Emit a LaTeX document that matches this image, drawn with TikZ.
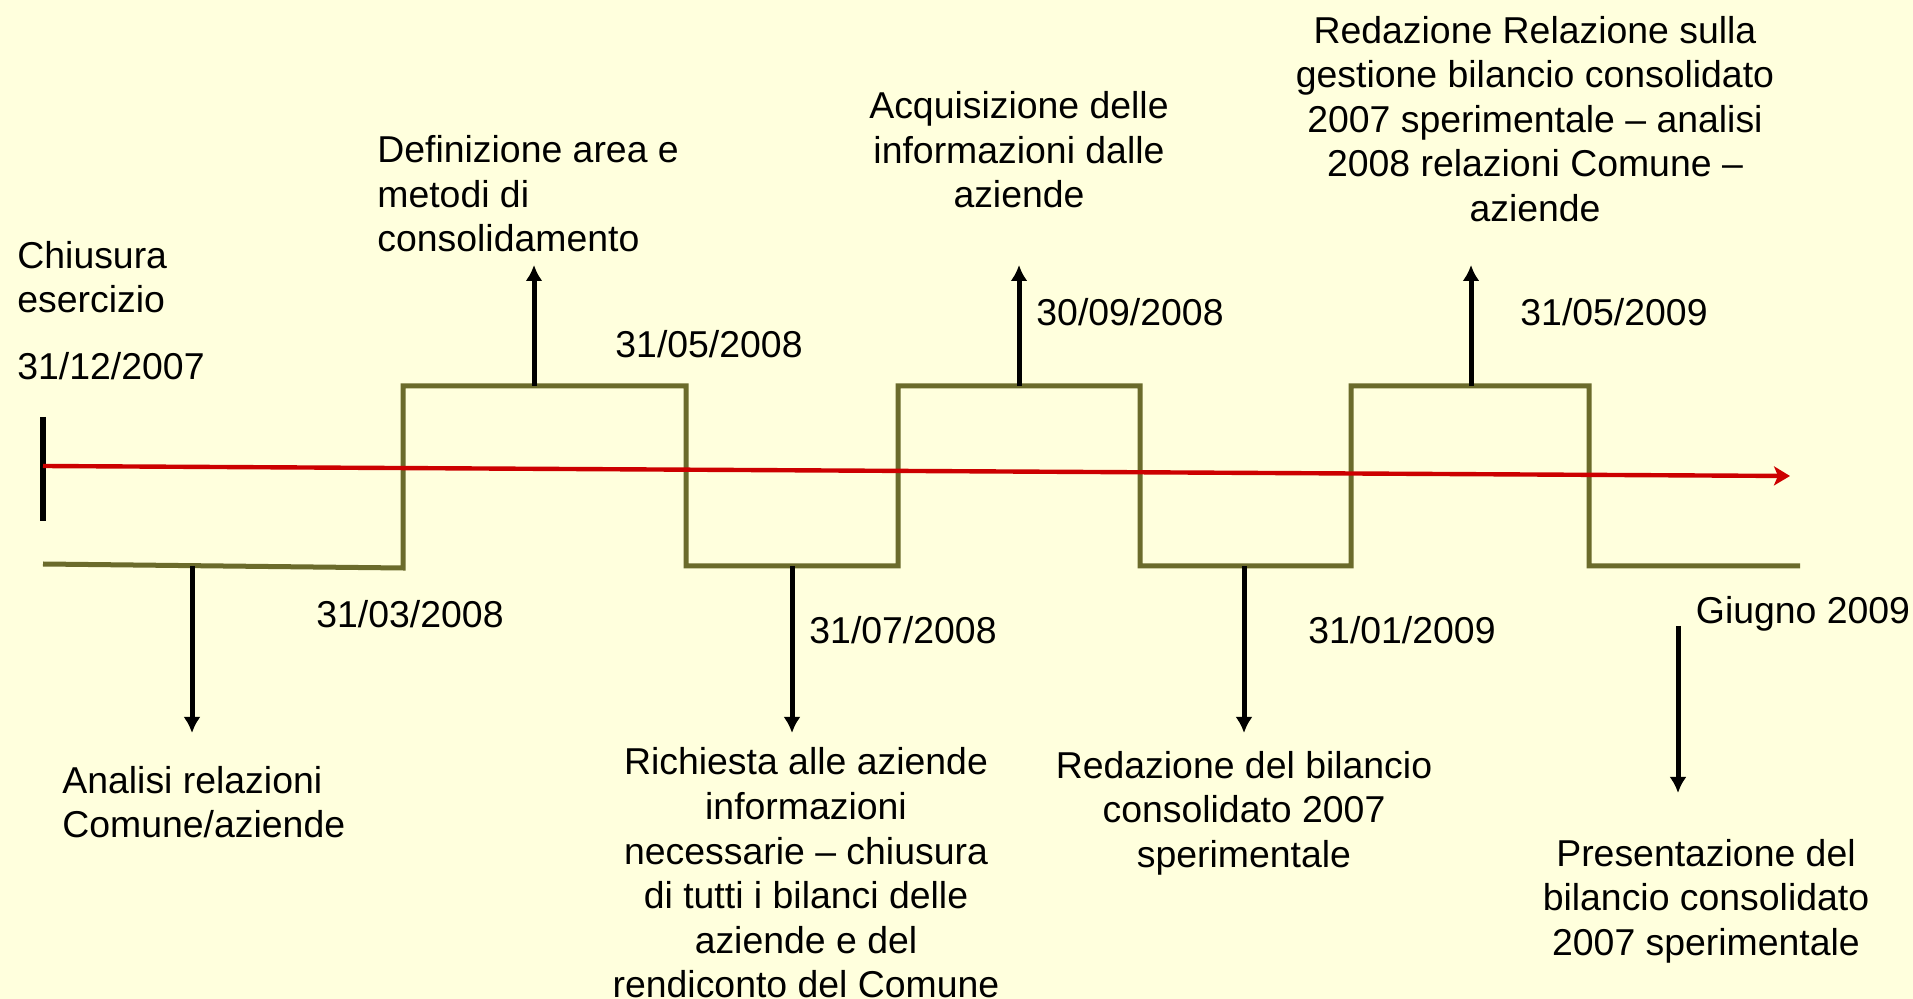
\documentclass[tikz,border=0pt]{standalone}
\usepackage{fontspec}
\setmainfont{Liberation Sans}
\usetikzlibrary{arrows.meta}
\definecolor{bgyellow}{HTML}{FFFFDD}
\definecolor{olive}{HTML}{6B6B2B}
\definecolor{tlred}{HTML}{CC0000}
\tikzset{
  lbl/.style={inner sep=0pt, font=\fontsize{18.7pt}{22.3pt}\selectfont, text=black},
  lblc/.style={lbl, align=center},
  lbll/.style={lbl, align=left},
  wave/.style={draw=olive, line width=2.5pt},
  pointer/.style={draw=black, line width=2.5pt, -{Latex[length=8pt,width=8.5pt]}},
  timeline/.style={draw=tlred, line width=2.2pt, -{Stealth[length=8pt,width=9.5pt,inset=2pt]}}
}
\begin{document}
\begin{tikzpicture}[x=0.5pt,y=-0.5pt]
\fill[bgyellow] (0,0) rectangle (1913,999);
\useasboundingbox (0,0) rectangle (1913,999);

% start bar
\coordinate (barT) at (43,417);
\coordinate (barB) at (43,521);
\draw[black, line width=2.6pt] (barT) -- (barB);

% waveform
\coordinate (w0) at (43,564);
\coordinate (w1) at (403,568);
\coordinate (w2) at (403,386);
\coordinate (w3) at (686,386);
\coordinate (w4) at (686,566);
\coordinate (w5) at (898,566);
\coordinate (w6) at (898,386);
\coordinate (w7) at (1140,386);
\coordinate (w8) at (1140,566);
\coordinate (w9) at (1351,566);
\coordinate (w10) at (1351,386);
\coordinate (w11) at (1589,386);
\coordinate (w12) at (1589,566);
\coordinate (w13) at (1800,566);
\draw[wave] (w0) -- (w1) -- (w2) -- (w3) -- (w4) -- (w5) -- (w6) -- (w7) -- (w8) -- (w9) -- (w10) -- (w11) -- (w12) -- (w13);

% red timeline
\coordinate (tlS) at (43,466);
\coordinate (tlE) at (1790,476);
\draw[timeline] (tlS) -- (tlE);

% up arrows
\coordinate (u1s) at (534,386); \coordinate (u1e) at (534,265);
\coordinate (u2s) at (1019,386); \coordinate (u2e) at (1019,265);
\coordinate (u3s) at (1471,386); \coordinate (u3e) at (1471,265);
\draw[pointer] (u1s) -- (u1e);
\draw[pointer] (u2s) -- (u2e);
\draw[pointer] (u3s) -- (u3e);

% down arrows
\coordinate (d1s) at (192,566); \coordinate (d1e) at (192,733);
\coordinate (d2s) at (792,566); \coordinate (d2e) at (792,733);
\coordinate (d3s) at (1244,566); \coordinate (d3e) at (1244,733);
\coordinate (d4s) at (1678,626); \coordinate (d4e) at (1678,793);
\draw[pointer] (d1s) -- (d1e);
\draw[pointer] (d2s) -- (d2e);
\draw[pointer] (d3s) -- (d3e);
\draw[pointer] (d4s) -- (d4e);

% labels above
\node[lbll, anchor=west] (chiusura) at (17,277) {Chiusura\\esercizio};
\node[lbl, anchor=west] (d20071231) at (17,366) {31/12/2007};
\node[lbll, anchor=west] (definizione) at (377,194) {Definizione area e\\metodi di\\consolidamento};
\node[lbl] (d20080531) at (709,344) {31/05/2008};
\node[lblc] (acquisizione) at (1019,150) {Acquisizione delle\\informazioni dalle\\aziende};
\node[lbl] (d20080930) at (1130,312) {30/09/2008};
\node[lblc] (redazioneRel) at (1535,119) {Redazione Relazione sulla\\gestione bilancio consolidato\\2007 sperimentale -- analisi\\2008 relazioni Comune --\\aziende};
\node[lbl] (d20090531) at (1614,312) {31/05/2009};

% labels below
\node[lbl] (d20080331) at (410,614) {31/03/2008};
\node[lbl] (d20080731) at (903,630) {31/07/2008};
\node[lbl] (d20090131) at (1402,630) {31/01/2009};
\node[lbl] (giugno) at (1803,614) {Giugno 2009};
\node[lbll, anchor=west] (analisi) at (62,802) {Analisi relazioni\\Comune/aziende};
\node[lblc] (richiesta) at (806,873) {Richiesta alle aziende\\informazioni\\necessarie -- chiusura\\di tutti i bilanci delle\\aziende e del\\rendiconto del Comune};
\node[lblc] (redazioneBil) at (1244,813) {Redazione del bilancio\\consolidato 2007\\sperimentale};
\node[lblc] (presentazione) at (1706,901) {Presentazione del\\bilancio consolidato\\2007 sperimentale};
\end{tikzpicture}
\end{document}
